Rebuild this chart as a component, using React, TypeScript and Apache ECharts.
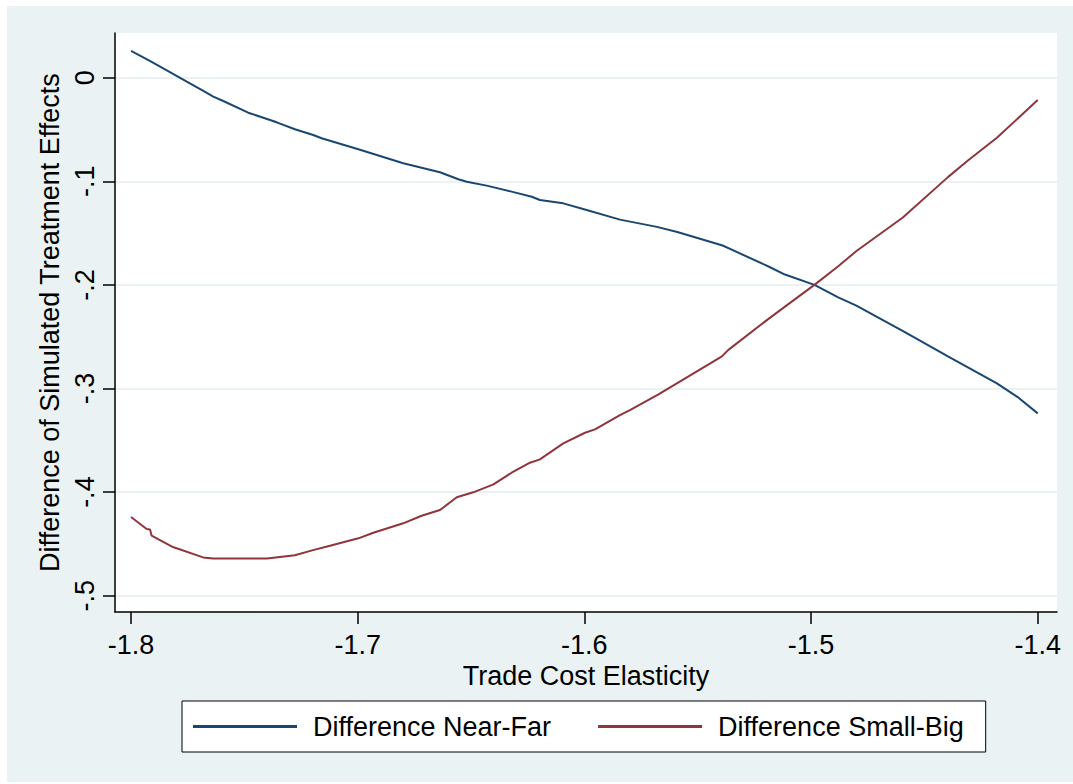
import React, { useEffect, useRef } from "react";
import * as echarts from "echarts";

// Trade cost elasticity (x) and simulated treatment-effect differences (y)
const nearFarX = [
  -1.8, -1.7919, -1.7846, -1.7754, -1.7681, -1.7637, -1.7593, -1.7483, -1.7357,
  -1.7277, -1.7196, -1.7159, -1.6997, -1.6799, -1.6718, -1.6637, -1.6556, -1.6519,
  -1.6431, -1.6321, -1.6232, -1.6196, -1.6093, -1.599, -1.5843, -1.568, -1.559,
  -1.539, -1.535, -1.519, -1.5115, -1.4985, -1.488, -1.48, -1.459, -1.4396, -1.418,
  -1.409, -1.4,
];
const nearFarY = [
  0.0258, 0.0164, 0.0074, -0.0039, -0.0128, -0.0183, -0.0225, -0.0338, -0.0431,
  -0.0498, -0.0553, -0.0585, -0.0691, -0.0826, -0.0869, -0.0913, -0.0981, -0.1004,
  -0.1042, -0.11, -0.1149, -0.1181, -0.1213, -0.1277, -0.137, -0.144, -0.149,
  -0.162, -0.166, -0.182, -0.19, -0.2, -0.212, -0.22, -0.245, -0.269, -0.295,
  -0.308, -0.324,
];

const smallBigX = [
  -1.8, -1.7931, -1.7916, -1.7909, -1.7815, -1.7682, -1.7638, -1.7519, -1.74,
  -1.7277, -1.7197, -1.7122, -1.6997, -1.6931, -1.6799, -1.6718, -1.6637, -1.6563,
  -1.649, -1.6401, -1.6321, -1.624, -1.6196, -1.6093, -1.5997, -1.5953, -1.5843,
  -1.5799, -1.5675, -1.5592, -1.5393, -1.5366, -1.5195, -1.5115, -1.4985, -1.488,
  -1.4798, -1.4595, -1.4396, -1.4308, -1.418, -1.4,
];
const smallBigY = [
  -0.424, -0.4356, -0.436, -0.442, -0.453, -0.463, -0.464, -0.464, -0.464,
  -0.461, -0.456, -0.4518, -0.4446, -0.4392, -0.4301, -0.4228, -0.4173, -0.405,
  -0.4002, -0.3925, -0.3813, -0.3716, -0.3684, -0.3529, -0.3427, -0.3394, -0.3256,
  -0.3208, -0.306, -0.295, -0.269, -0.263, -0.234, -0.221, -0.2, -0.182,
  -0.167, -0.135, -0.096, -0.08, -0.058, -0.0216,
];

const seriesNames = ["Difference Near-Far", "Difference Small-Big"];
const xTickValues = [-1.8, -1.7, -1.6, -1.5, -1.4];
const xTickLabels = ["-1.8", "-1.7", "-1.6", "-1.5", "-1.4"];
const yTickValues = [-0.5, -0.4, -0.3, -0.2, -0.1, 0];
const yTickLabels = ["-.5", "-.4", "-.3", "-.2", "-.1", "0"];
const xAxisTitle = "Trade Cost Elasticity";
const yAxisTitle = "Difference of Simulated Treatment Effects";

const FONT = "'Liberation Sans', Arial, Helvetica, sans-serif";

function labelFor(values: number[], labels: string[], v: number): string {
  let best = 0;
  for (let i = 1; i < values.length; i++) {
    if (Math.abs(values[i] - v) < Math.abs(values[best] - v)) best = i;
  }
  return labels[best];
}

function zip(xs: number[], ys: number[]): number[][] {
  return xs.map((x, i) => [x, ys[i]]);
}

export default function App() {
  const ref = useRef<HTMLDivElement>(null);

  useEffect(() => {
    document.body.style.margin = "0";
    if (!ref.current) return;
    const chart = echarts.init(ref.current, undefined, { renderer: "svg" });
    const axisLine = { show: true, onZero: false, lineStyle: { color: "#000", width: 1.5 } };
    const axisTick = { show: true, inside: false, length: 12, lineStyle: { color: "#000", width: 1.5 } };
    chart.setOption({
      animation: false,
      backgroundColor: "#ffffff",
      textStyle: { fontFamily: FONT },
      graphic: [
        {
          type: "rect",
          z: -100,
          silent: true,
          shape: { x: 7, y: 6, width: 1066, height: 776 },
          style: { fill: "#EAF2F3" },
        },
      ],
      grid: {
        left: 115,
        right: 16,
        top: 33,
        bottom: 172,
        show: true,
        backgroundColor: "#ffffff",
        borderWidth: 0,
      },
      legend: {
        left: 182,
        top: 701,
        orient: "horizontal",
        data: seriesNames,
        icon: "rect",
        itemWidth: 104,
        itemHeight: 3,
        itemGap: 47,
        padding: [12, 22, 12, 11],
        backgroundColor: "#ffffff",
        borderColor: "#000",
        borderWidth: 1,
        selectedMode: false,
        textStyle: {
          fontFamily: FONT,
          fontSize: 27,
          color: "#000",
          lineHeight: 26,
          padding: [0, 0, 0, 11],
        },
      },
      xAxis: {
        type: "value",
        min: -1.80706,
        max: -1.39149,
        name: xAxisTitle,
        nameLocation: "middle",
        nameGap: 44,
        nameTextStyle: { fontFamily: FONT, fontSize: 27, color: "#000" },
        axisLine,
        axisTick: { ...axisTick, customValues: xTickValues },
        axisLabel: {
          customValues: xTickValues,
          margin: 19,
          fontFamily: FONT,
          fontSize: 27,
          color: "#000",
          formatter: (v: number) => labelFor(xTickValues, xTickLabels, v),
        },
        splitLine: { show: false },
      },
      yAxis: {
        type: "value",
        min: -0.5157,
        max: 0.0431,
        name: yAxisTitle,
        nameLocation: "middle",
        nameGap: 46,
        nameTextStyle: { fontFamily: FONT, fontSize: 27, color: "#000" },
        axisLine,
        axisTick: { ...axisTick, customValues: yTickValues },
        axisLabel: {
          customValues: yTickValues,
          rotate: 90,
          margin: 17,
          fontFamily: FONT,
          fontSize: 27,
          color: "#000",
          formatter: (v: number) => labelFor(yTickValues, yTickLabels, v),
        },
        splitLine: { show: true, lineStyle: { color: "#EAF2F3", width: 2 } },
      },
      series: [
        {
          name: seriesNames[0],
          type: "line",
          data: zip(nearFarX, nearFarY),
          symbol: "none",
          color: "#1A476F",
          lineStyle: { color: "#1A476F", width: 2 },
          z: 3,
        },
        {
          name: seriesNames[1],
          type: "line",
          data: zip(smallBigX, smallBigY),
          symbol: "none",
          color: "#90353B",
          lineStyle: { color: "#90353B", width: 2 },
          z: 3,
        },
      ],
    });
    return () => chart.dispose();
  }, []);

  return (
    <div
      ref={ref}
      style={{ position: "absolute", left: 0, top: 0, width: 1073, height: 784 }}
    />
  );
}
